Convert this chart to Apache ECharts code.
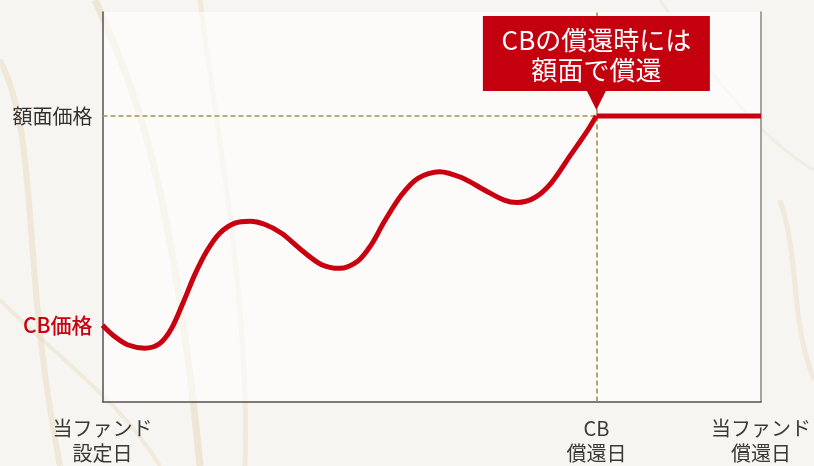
<!DOCTYPE html>
<html>
<head>
<meta charset="utf-8">
<script src="https://cdn.jsdelivr.net/npm/echarts@6/dist/echarts.min.js"></script>
<style>html,body{margin:0;padding:0;background:#f7f5f1;}#c{width:814px;height:466px;}</style>
</head>
<body>
<div id="c"></div>
<script>
// Time axis: 0 = fund start, 75 = CB redemption, 100 = fund redemption
var timeKeys = [0, 75, 100];
var timeLabels = ['当ファンド\n設定日', 'CB\n償還日', '当ファンド\n償還日'];
// Price levels
var faceValue = 73.3;
var cbStart = 19.6;
var priceKeys = [cbStart, faceValue];
var priceLabels = ['CB価格', '額面価格'];
// CB price path (x, y)
var cbX = [0, 1.9, 3.9, 6.4, 8.7, 10.5, 12.3, 14.0, 15.8, 17.8, 20.1, 22.4, 24.6, 27.2, 30.2, 33.2, 36.0, 38.8, 40.8, 42.8, 45.4, 47.9, 51.2, 54.5, 58.0, 61.0, 63.0, 65.6, 68.1, 71.1, 73.7, 75];
var cbY = [19.6, 16.6, 14.5, 13.7, 14.9, 18.8, 25.6, 32.5, 38.5, 43.2, 45.8, 46.3, 45.5, 43.2, 38.9, 35.2, 34.2, 36.1, 40.2, 46.2, 53.0, 57.3, 59.0, 57.5, 54.3, 51.7, 51.1, 52.3, 56.0, 63.3, 69.7, 73.3];
// After CB redemption: face value
var flatX = [75, 100];
var flatY = [faceValue, faceValue];
var calloutText = 'CBの償還時には\n額面で償還';

var FONT = '"Noto Sans CJK JP", "Noto Sans", sans-serif';
var RED = '#c8000f';
var DASH = '#a3963e';
var AXIS = '#555050';

var chart = echarts.init(document.getElementById('c'));
var cbData = cbX.map(function (x, i) { return [x, cbY[i]]; });
var flatData = flatX.map(function (x, i) { return [x, flatY[i]]; });

function vein(pts, w, op) {
  return {
    type: 'bezierCurve', silent: true, z: -10,
    shape: {x1: pts[0], y1: pts[1], cpx1: pts[2], cpy1: pts[3], cpx2: pts[4], cpy2: pts[5], x2: pts[6], y2: pts[7]},
    style: {stroke: 'rgba(222,200,160,' + op + ')', lineWidth: w, fill: null}
  };
}

chart.setOption({
  backgroundColor: '#f7f5f1',
  animation: false,
  graphic: [
    vein([95, 0, 130, 80, 170, 160, 200, 466], 7, 0.35),
    vein([200, 0, 215, 120, 250, 300, 245, 466], 5, 0.25),
    vein([0, 60, 40, 140, 20, 260, 60, 466], 6, 0.3),
    vein([0, 300, 60, 360, 120, 400, 160, 466], 4, 0.25),
    vein([780, 200, 800, 260, 790, 320, 814, 380], 5, 0.25),
    vein([660, 0, 700, 60, 760, 140, 814, 170], 3, 0.2)
  ],
  grid: {left: 102.5, right: 52, top: 12, bottom: 64.5, show: true, backgroundColor: 'rgba(255,255,255,0.6)', borderWidth: 0},
  xAxis: {
    type: 'value', min: 0, max: 100, interval: 25,
    axisLine: {show: true, onZero: false, lineStyle: {color: AXIS, width: 1.5}},
    axisTick: {show: false},
    splitLine: {show: false},
    axisLabel: {
      customValues: timeKeys,
      margin: 14,
      fontFamily: FONT, fontSize: 20, color: '#3c3838', lineHeight: 25,
      formatter: function (v) { var i = timeKeys.indexOf(v); return i >= 0 ? timeLabels[i] : ''; }
    }
  },
  yAxis: [{
    type: 'value', min: 0, max: 100, interval: 25,
    axisLine: {show: true, onZero: false, lineStyle: {color: AXIS, width: 1.5}},
    axisTick: {show: false},
    splitLine: {show: false},
    axisLabel: {
      customValues: priceKeys,
      margin: 10,
      fontFamily: FONT, fontSize: 20,
      formatter: function (v) {
        var i = priceKeys.indexOf(v);
        if (i < 0) return '';
        return i === 0 ? '{r|' + priceLabels[i] + '}' : '{k|' + priceLabels[i] + '}';
      },
      rich: {
        r: {color: RED, fontFamily: FONT, fontSize: 21, fontWeight: 500},
        k: {color: '#333030', fontFamily: FONT, fontSize: 20}
      }
    }
  }, {
    type: 'value', min: 0, max: 100, position: 'right',
    axisLine: {show: true, onZero: false, lineStyle: {color: '#8a8686', width: 1.5}},
    axisTick: {show: false}, axisLabel: {show: false}, splitLine: {show: false}
  }],
  series: [{
    type: 'line', data: cbData, smooth: 0.3, symbol: 'none', z: 5,
    lineStyle: {color: RED, width: 5},
    markLine: {
      silent: true, symbol: 'none', z: 2,
      lineStyle: {color: DASH, type: [5, 3], width: 1.6},
      label: {show: false},
      data: [
        [{coord: [0, faceValue]}, {coord: [75, faceValue]}],
        [{coord: [75, 0]}, {coord: [75, 100]}]
      ]
    },
    markPoint: {
      silent: true, z: 10,
      data: [{coord: [75, faceValue]}],
      symbol: 'path://M0 0 H227 V75 H123 L113.5 94 L104 75 H0 Z',
      symbolSize: [227, 94],
      symbolOffset: [0, -53],
      itemStyle: {color: '#c4000f'},
      label: {
        show: true, position: 'inside', offset: [0, -8],
        formatter: calloutText,
        color: '#ffffff', fontFamily: FONT, fontSize: 26, lineHeight: 30
      }
    }
  }, {
    type: 'line', data: flatData, symbol: 'none', z: 5,
    lineStyle: {color: RED, width: 5}
  }]
});
</script>
</body>
</html>
